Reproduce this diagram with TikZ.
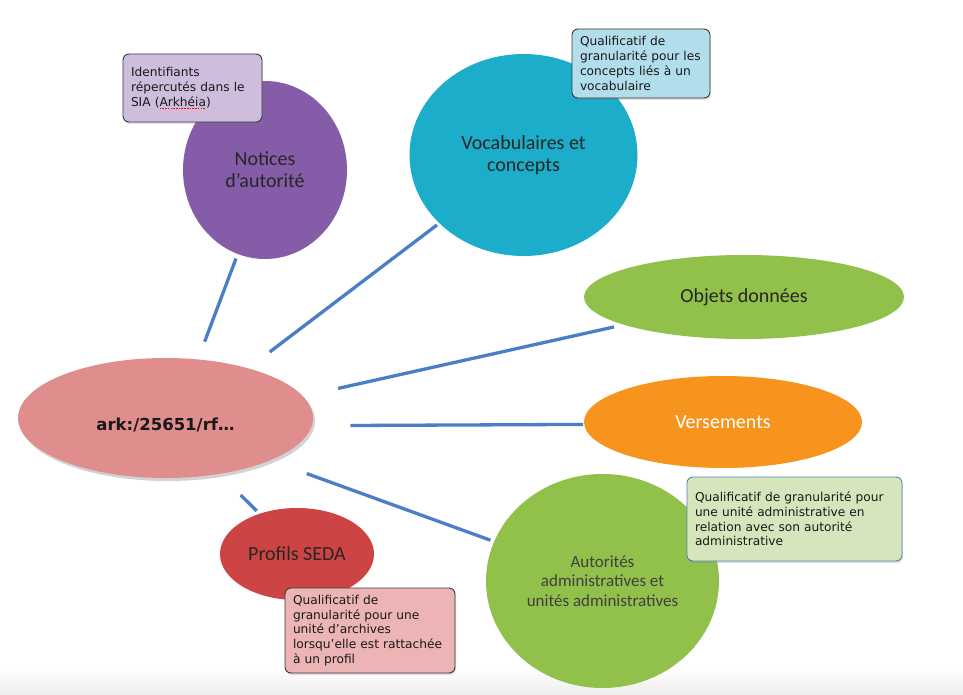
\documentclass[tikz,border=0pt]{standalone}
\usepackage{fontspec}
\setmainfont{Carlito}
\newfontfamily\notefont{DejaVu Sans}
\newfontfamily\arkfont{DejaVu Sans}
\usetikzlibrary{shapes.geometric,shadows}

% palette
\definecolor{linkblue}{HTML}{4A7EC6}
\definecolor{notpurple}{HTML}{855CA7}
\definecolor{vocteal}{HTML}{1BADC9}
\definecolor{leafgreen}{HTML}{91C04B}
\definecolor{versorange}{HTML}{F7941E}
\definecolor{arkpink}{HTML}{E08D8D}
\definecolor{sedared}{HTML}{CC4444}
\definecolor{notelilac}{HTML}{CEBDDD}
\definecolor{notesky}{HTML}{B1DEEA}
\definecolor{notemint}{HTML}{D6E6BC}
\definecolor{noterose}{HTML}{ECB4B4}
\definecolor{noteedge}{HTML}{3A3A3A}
\definecolor{mintedge}{HTML}{4F81BD}

% red dotted spell-check underline
\newsavebox\spellbox
\newcommand\spellmark[1]{\sbox\spellbox{#1}%
  \rlap{\textcolor{red}{\raisebox{-2.6pt}{\hbox to \wd\spellbox{\xleaders\hbox{\rule{1.6pt}{1.1pt}\kern1pt}\hfill}}}}%
  \usebox\spellbox}

\begin{document}
\begin{tikzpicture}[x=1pt,y=-1pt,
  bubble/.style={ellipse, inner sep=0pt, outer sep=0pt, align=center,
    text=black!85, font=\fontsize{20}{22}\selectfont},
  note/.style={rectangle, rounded corners=6pt, draw=noteedge, line width=0.9pt,
    inner xsep=8pt, inner ysep=3pt, align=left, text=black!90,
    font=\notefont\fontsize{12.2}{14.7}\selectfont,
    drop shadow={shadow xshift=1pt, shadow yshift=-2pt, opacity=0.25}},
  link/.style={draw=linkblue, line width=3.3pt}]

\useasboundingbox (0,0) rectangle (963,695);
\fill[white] (0,0) rectangle (963,695);
\shade[top color=white, bottom color=black!7] (0,668) rectangle (963,695);

% topic bubbles
\node[bubble, fill=notpurple, minimum width=164pt, minimum height=178pt] (notices) at (265,170) {Notices\\d’autorité};
\node[bubble, fill=vocteal, minimum width=228pt, minimum height=202pt] (vocab) at (523.5,155) {Vocabulaires et\\concepts};
\node[bubble, fill=leafgreen, minimum width=320pt, minimum height=84pt] (objets) at (744,297) {Objets données};
\node[bubble, fill=versorange, text=white, minimum width=278pt, minimum height=92pt] (vers) at (723,422) {Versements};
\node[bubble, fill=leafgreen, text=black!75, minimum width=233pt, minimum height=214pt,
  font=\fontsize{17}{19.5}\selectfont] (autor) at (602.5,581) {Autorités\\administratives et\\unités administratives};
\node[bubble, fill=sedared, minimum width=154pt, minimum height=92pt] (profils) at (297,554) {Profils SEDA};

% central identifier
\node[bubble, fill=arkpink, minimum width=295pt, minimum height=120pt,
  drop shadow={shadow xshift=2pt, shadow yshift=-3pt, opacity=0.35},
  font=\arkfont\bfseries\fontsize{16.5}{19}\selectfont, text=black!90] (ark) at (165.5,418)
  {\raisebox{-7pt}[\height][\depth]{ark:/25651/rf…}};

% connectors
\draw[link, shorten <=5pt, shorten >=19pt] (notices.252.5) -- (ark.61);
\draw[link, shorten <=3pt, shorten >=27pt] (vocab.219.5) -- (ark.31.7);
\draw[link, shorten <=10pt, shorten >=36pt] (objets.193) -- (ark.9.25);
\draw[link, shorten <=1pt, shorten >=38.5pt] (vers.181) -- (ark.-3.5);
\draw[link, shorten <=4pt, shorten >=39pt] (autor.160) -- (ark.-22);
\draw[link, shorten <=4pt, shorten >=30pt] (profils.133.6) -- (ark.-46.1);

% annotations
\node[note, fill=notelilac, minimum width=139pt, minimum height=68pt, text width=123pt] (idnote) at (192.5,88)
  {Identifiants\\répercutés dans le\\SIA (\spellmark{Arkhéia})};
\node[note, fill=notesky, minimum width=138pt, minimum height=69pt, text width=122pt] (vocnote) at (641,63.5)
  {Qualificatif de\\granularité pour les\\concepts liés à un\\vocabulaire};
\node[note, fill=notemint, draw=mintedge, minimum width=215pt, minimum height=84pt, text width=199pt] (autnote) at (794.5,519)
  {Qualificatif de granularité pour\\une unité administrative en\\relation avec son autorité\\administrative};
\node[note, fill=noterose, minimum width=170pt, minimum height=85pt, text width=154pt] (sedanote) at (370,630.5)
  {Qualificatif de\\granularité pour une\\unité d’archives\\lorsqu’elle est rattachée\\à un profil};
\end{tikzpicture}
\end{document}
